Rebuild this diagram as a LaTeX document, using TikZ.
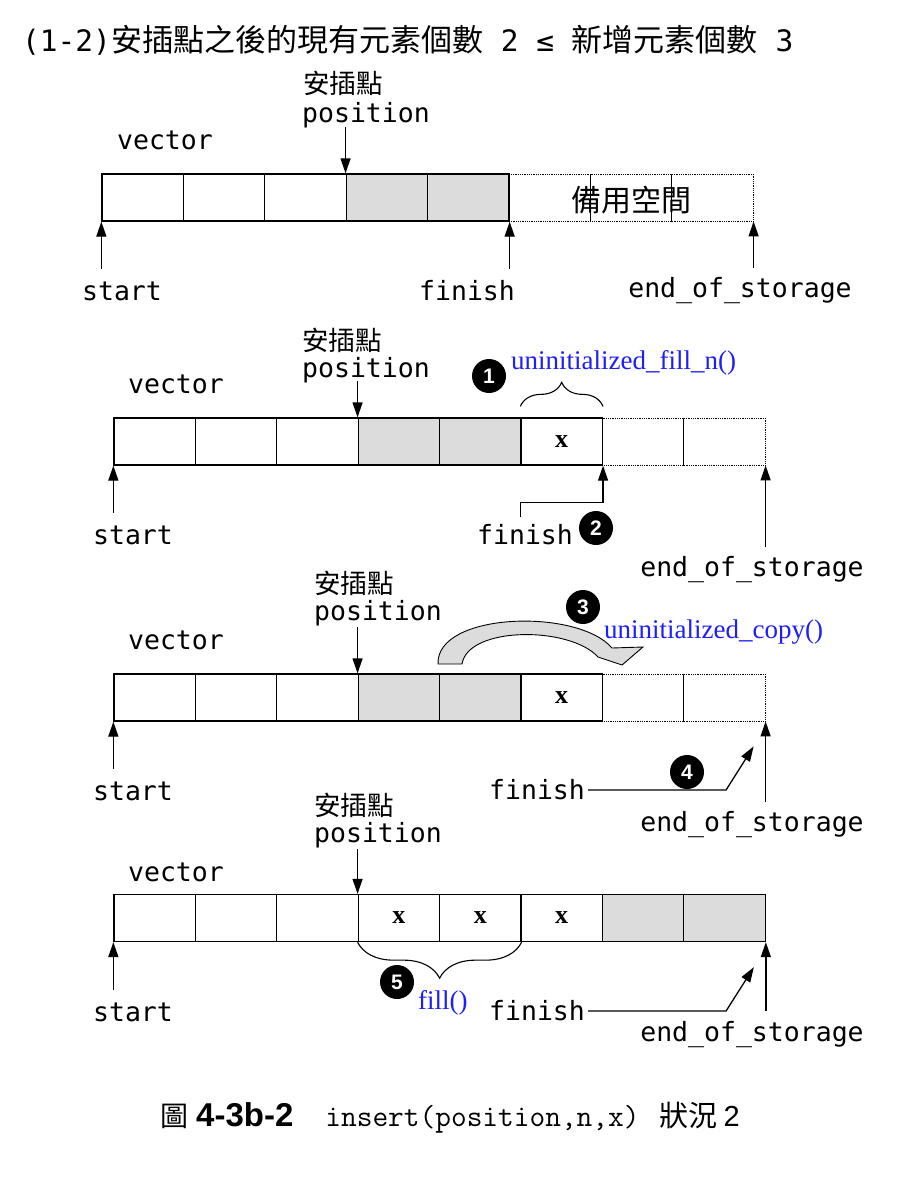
\documentclass[tikz,border=0pt]{standalone}
\usepackage{fontspec}
\setmainfont{Liberation Serif}
\newfontfamily\sansmono{DejaVu Sans Mono}
\newfontfamily\cjk{Noto Sans CJK TC}
\newfontfamily\helv{Liberation Sans}
\usetikzlibrary{arrows.meta, positioning, calc, decorations.pathreplacing}
\definecolor{slotgray}{RGB}{220,220,220}
\definecolor{fnblue}{RGB}{30,30,250}
\newcommand{\monott}{\sansmono\fontsize{29.5}{32}\selectfont}
\newcommand{\hztt}{\cjk\fontsize{31}{34}\selectfont}

\begin{document}
\begin{tikzpicture}[x=1pt, y=-1pt,
    cell/.style={draw, line width=1.3pt, minimum width=81.4pt, minimum height=47pt, inner sep=0, font=\bfseries\fontsize{26}{26}\selectfont},
    moved/.style={cell, fill=slotgray},
    spare/.style={draw, densely dotted, line width=0.8pt, minimum width=81.4pt, minimum height=47pt, inner sep=0},
    lbl/.style={inner sep=0, font=\sansmono\fontsize{26.5}{30}\selectfont},
    hz/.style={inner sep=0, font=\cjk\fontsize{26.5}{30}\selectfont},
    fname/.style={inner sep=0, anchor=west, text=fnblue, font=\fontsize{27}{30}\selectfont},
    num/.style={circle, fill=black, text=white, inner sep=0, minimum size=34pt, font=\helv\bfseries\fontsize{21}{21}\selectfont},
    ptr/.style={line width=1.3pt, -{Triangle[length=15pt, width=10pt]}},
    brc/.style={line width=1.1pt, decorate, decoration={brace, amplitude=#1}},
]
    \useasboundingbox (0,0) rectangle (898,1194);

    % Title
    \node[anchor=west, inner sep=0] (title) at (22,40) {\monott(1-2)\hztt 安插點之後的現有元素個數\monott{} 2 ≤ \hztt 新增元素個數\monott{} 3};

    % Stage 1: before insert
    \node[spare] (s1c6) at (549.7,197.5) {};
    \node[spare] (s1c7) at (631.1,197.5) {};
    \node[spare] (s1c8) at (712.5,197.5) {};
    \node[cell] (s1c1) at (142.7,197.5) {};
    \node[cell] (s1c2) at (224.1,197.5) {};
    \node[cell] (s1c3) at (305.5,197.5) {};
    \node[moved] (s1c4) at (386.9,197.5) {};
    \node[moved] (s1c5) at (468.3,197.5) {};
    \node[hz, font=\cjk\fontsize{30}{32}\selectfont] (spare1) at (631,200) {備用空間};
    \node[lbl] (vec1) at (165,140) {vector};
    \node[hz] (ins1) at (343,83) {安插點};
    \node[lbl] (pos1) at (366,115) {position};
    \node[lbl] (st1) at (122,291) {start};
    \node[lbl] (fin1) at (467,291) {finish};
    \node[lbl] (eos1) at (740,291) {end\_of\_storage};
    \draw[ptr] ([yshift=46pt]s1c4.north west) -- (s1c4.north west);
    \draw[ptr] ([yshift=-47pt]s1c1.south west) -- (s1c1.south west);
    \draw[ptr] ([yshift=-47pt]s1c5.south east) -- (s1c5.south east);
    \draw[ptr] ([yshift=-47pt]s1c8.south east) -- (s1c8.south east);

    % Stage 2: uninitialized_fill_n
    \node[spare] (s2c7) at (643.1,441.5) {};
    \node[spare] (s2c8) at (724.5,441.5) {};
    \node[cell] (s2c1) at (154.7,441.5) {};
    \node[cell] (s2c2) at (236.1,441.5) {};
    \node[cell] (s2c3) at (317.5,441.5) {};
    \node[moved] (s2c4) at (398.9,441.5) {};
    \node[moved] (s2c5) at (480.3,441.5) {};
    \node[cell] (s2c6) at (561.7,441.5) {x};
    \node[lbl] (vec2) at (176,384) {vector};
    \node[hz] (ins2) at (342,340) {安插點};
    \node[lbl] (pos2) at (366,370) {position};
    \node[num] (n1) at (489,376) {1};
    \node[fname] (fn1) at (511,363) {uninitialized\_fill\_n()};
    \node[lbl] (st2) at (133,535) {start};
    \node[lbl] (fin2) at (525,535) {finish};
    \node[num] (n2) at (596,528) {2};
    \node[lbl] (eos2) at (752,570) {end\_of\_storage};
    \draw[brc=24pt] ([yshift=11pt]s2c6.north west) -- ([yshift=11pt]s2c6.north east);
    \draw[ptr] ([yshift=36pt]s2c4.north west) -- (s2c4.north west);
    \draw[ptr] ([yshift=-47pt]s2c1.south west) -- (s2c1.south west);
    \draw[ptr] ([yshift=-51pt]s2c6.south west) -- ([yshift=-37pt]s2c6.south west) -| (s2c6.south east);
    \draw[ptr] ([yshift=-82pt]s2c8.south east) -- (s2c8.south east);

    % Stage 3: uninitialized_copy
    \node[spare] (s3c7) at (643.1,697.5) {};
    \node[spare] (s3c8) at (724.5,697.5) {};
    \node[cell] (s3c1) at (154.7,697.5) {};
    \node[cell] (s3c2) at (236.1,697.5) {};
    \node[cell] (s3c3) at (317.5,697.5) {};
    \node[moved] (s3c4) at (398.9,697.5) {};
    \node[moved] (s3c5) at (480.3,697.5) {};
    \node[cell] (s3c6) at (561.7,697.5) {x};
    \node[lbl] (vec3) at (176,640) {vector};
    \node[hz] (ins3) at (354,583) {安插點};
    \node[lbl] (pos3) at (378,613) {position};
    \node[num] (n3) at (583,607) {3};
    \node[fname] (fn3) at (604,632) {uninitialized\_copy()};
    \node[lbl] (st3) at (133,791) {start};
    \node[lbl] (fin3) at (537,790) {finish};
    \node[num] (n4) at (687,772) {4};
    \node[lbl] (eos3) at (752,825) {end\_of\_storage};
    \draw[line width=0.9pt, fill=slotgray] (438,664) .. controls (436,612) and (578,608) .. (612,648)
        -- (643,647) -- (622,665) -- (598,657) .. controls (570,626) and (468,626) .. (462,664) -- cycle;
    \draw[ptr] ([yshift=46pt]s3c4.north west) -- (s3c4.north west);
    \draw[ptr] ([yshift=-47pt]s3c1.south west) -- (s3c1.south west);
    \coordinate (f3tip) at ([xshift=-12pt,yshift=-25pt]s3c8.south east);
    \draw[ptr] ([xshift=3pt]fin3.east) -- ++(138,0) -- (f3tip);
    \draw[ptr] ([yshift=-81pt]s3c8.south east) -- (s3c8.south east);

    % Stage 4: fill
    \node[cell] (s4c1) at (154.7,918) {};
    \node[cell] (s4c2) at (236.1,918) {};
    \node[cell] (s4c3) at (317.5,918) {};
    \node[cell] (s4c4) at (398.9,918) {x};
    \node[cell] (s4c5) at (480.3,918) {x};
    \node[cell] (s4c6) at (561.7,918) {x};
    \node[moved] (s4c7) at (643.1,918) {};
    \node[moved] (s4c8) at (724.5,918) {};
    \node[lbl] (vec4) at (176,872) {vector};
    \node[hz] (ins4) at (354,805) {安插點};
    \node[lbl] (pos4) at (378,835) {position};
    \node[num] (n5) at (397,982) {5};
    \node[fname] (fn5) at (418,1003) {fill()};
    \node[lbl] (st4) at (133,1012) {start};
    \node[lbl] (fin4) at (537,1011) {finish};
    \node[lbl] (eos4) at (752,1035) {end\_of\_storage};
    \draw[brc=36pt] (s4c5.south east) -- (s4c4.south west);
    \draw[ptr] ([yshift=45pt]s4c4.north west) -- (s4c4.north west);
    \draw[ptr] ([yshift=-48pt]s4c1.south west) -- (s4c1.south west);
    \coordinate (f4tip) at ([xshift=-12pt,yshift=-25pt]s4c8.south east);
    \draw[ptr] ([xshift=3pt]fin4.east) -- ++(138,0) -- (f4tip);
    \draw[ptr] ([yshift=-69pt]s4c8.south east) -- (s4c8.south east);

    % Caption
    \node[anchor=west, inner sep=0] (cap) at (160,1118) {{\cjk\fontsize{28}{30}\selectfont 圖}\hspace{8pt}{\helv\bfseries\fontsize{33}{34}\selectfont 4-3b-2}\hspace{32pt}{\ttfamily\fontsize{30.5}{30}\selectfont insert(position,n,x)}\hspace{20pt}{\cjk\fontsize{29}{30}\selectfont 狀況}\hspace{6pt}{\helv\fontsize{29}{30}\selectfont 2}};
\end{tikzpicture}
\end{document}
